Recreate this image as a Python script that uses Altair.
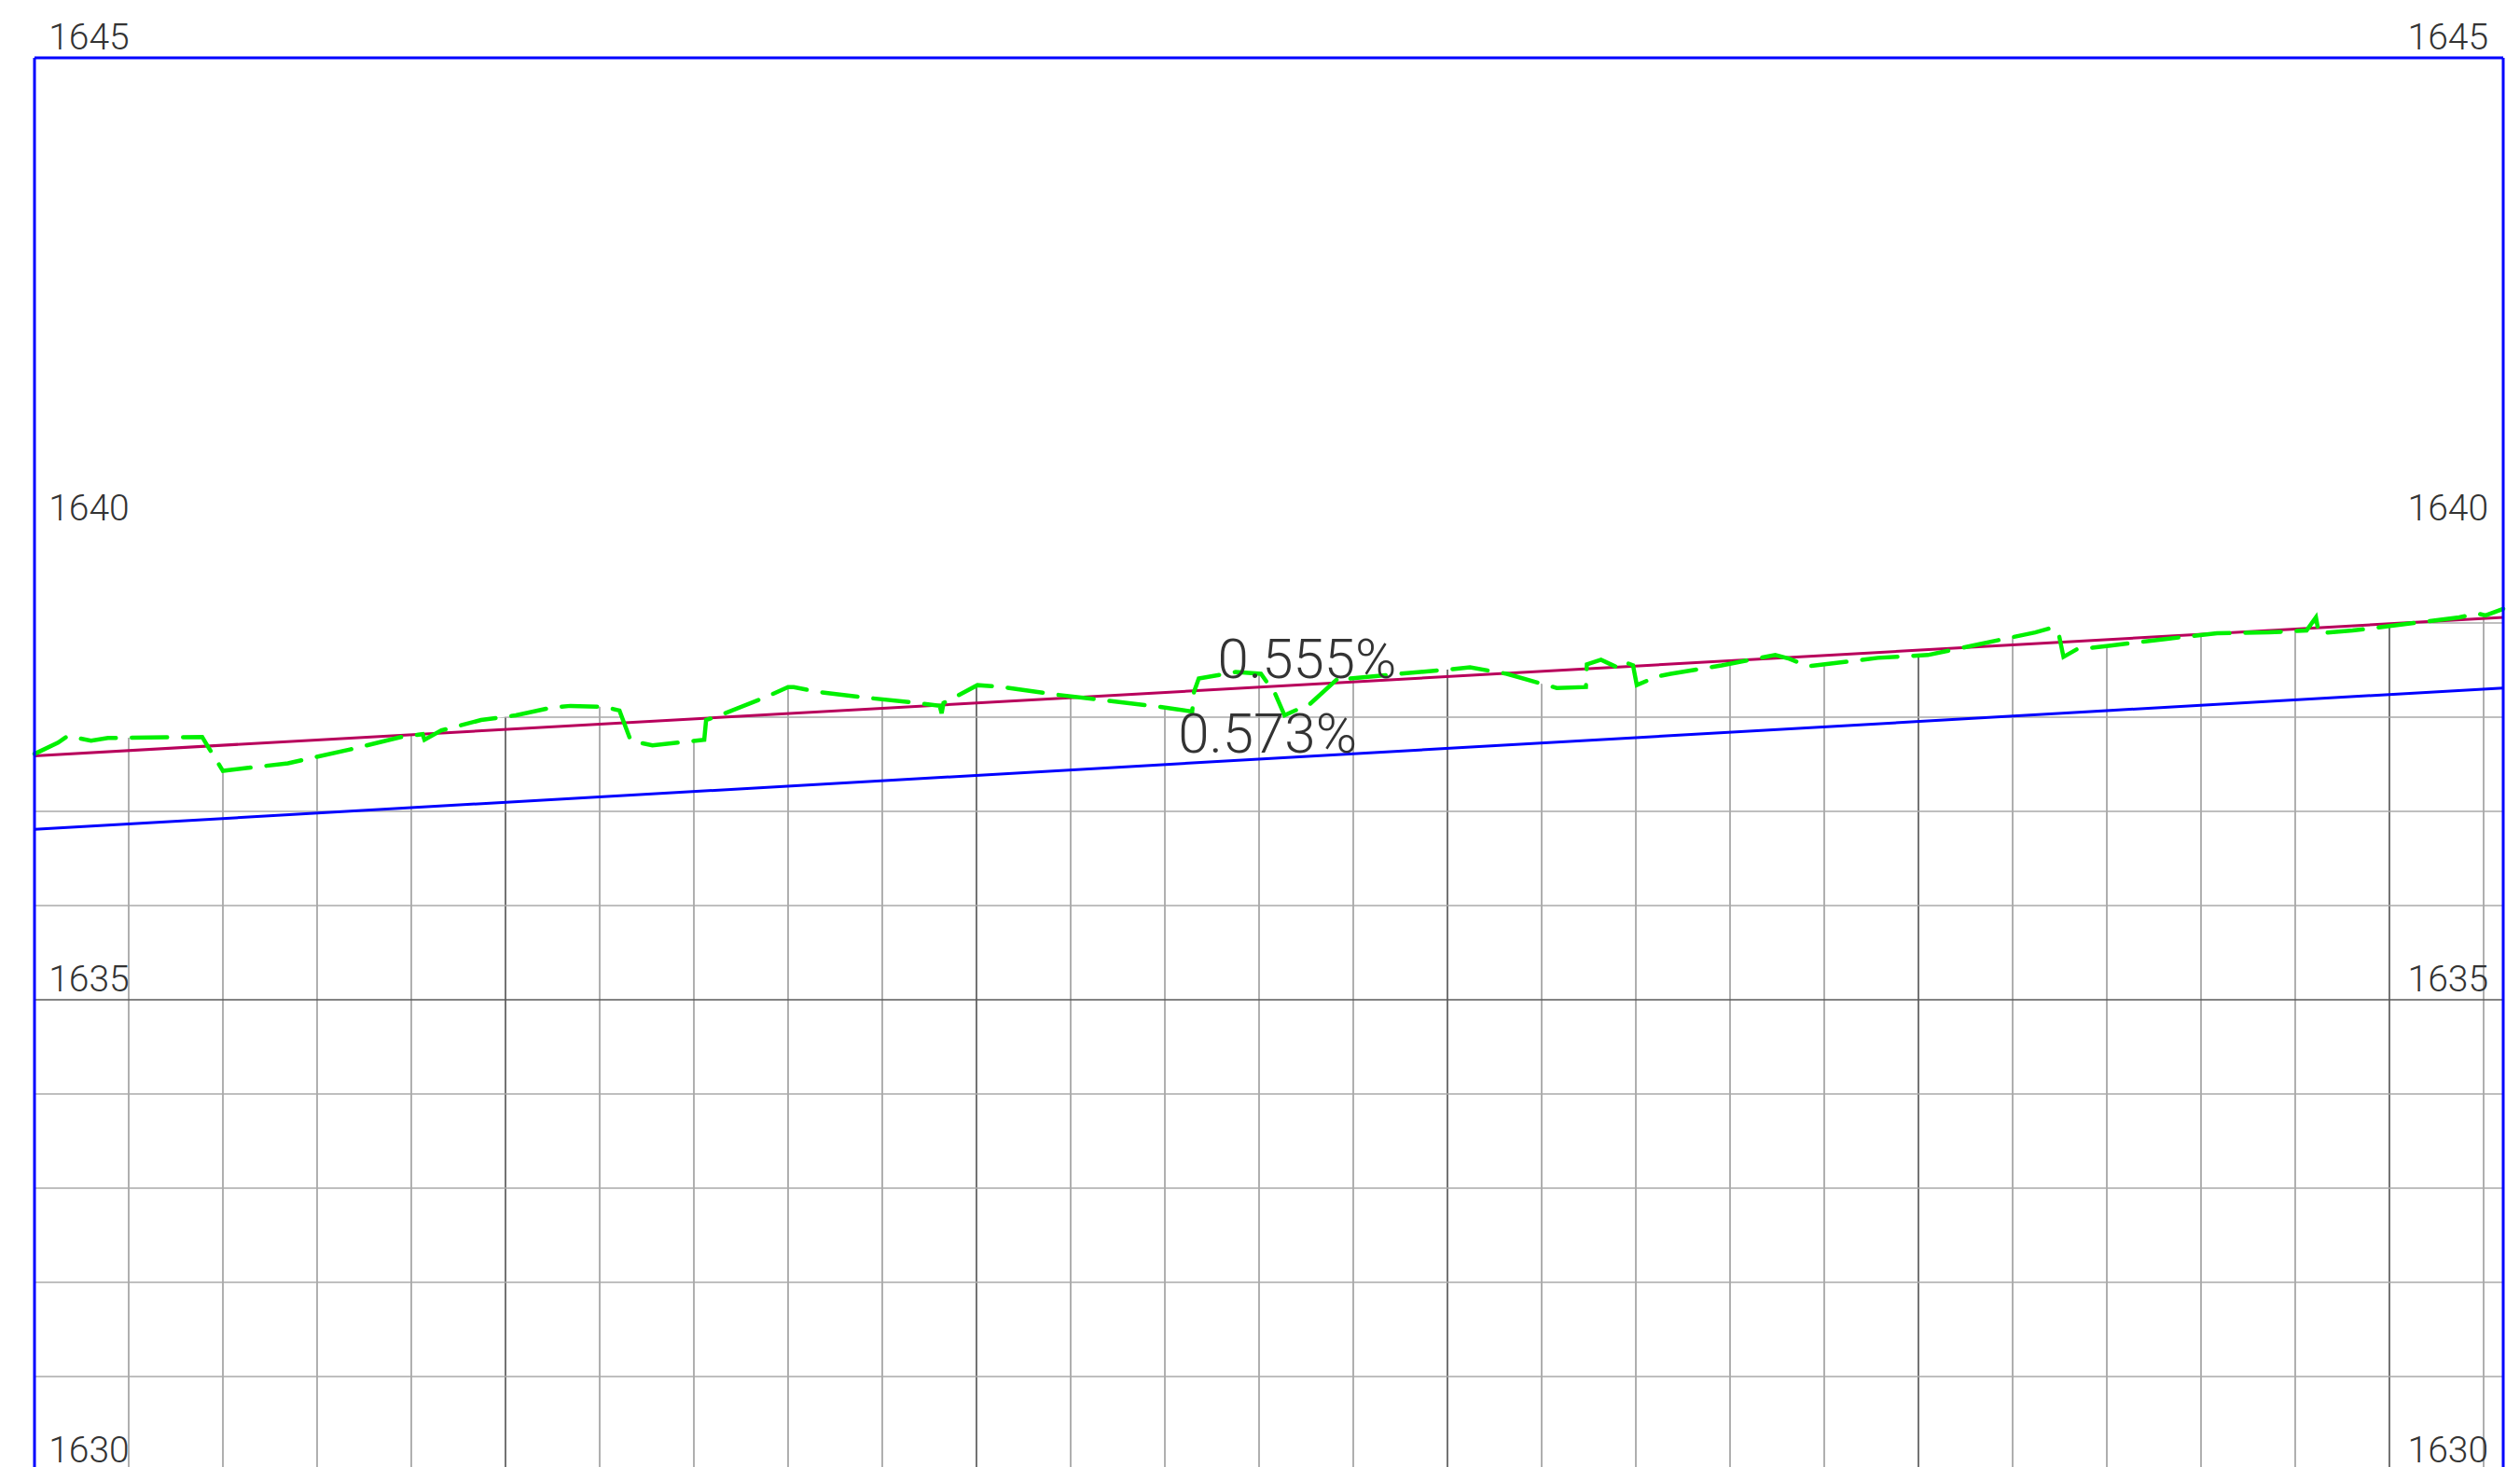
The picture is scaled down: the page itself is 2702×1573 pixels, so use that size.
import altair as alt
import pandas as pd

# ---------------- data ----------------
ground_station = [0, 2.5, 3.5, 6.0, 7.8, 17.8, 18.4, 20.0, 22.5, 26.9, 33.6, 38.9, 41.2, 41.4, 43.2,
                  47.4, 51.1, 54.8, 56.9, 60.5, 62.1, 63.3, 65.6, 71.1, 71.3, 72.5, 77.8, 80.0, 80.6,
                  83.1, 88.0, 93.8, 96.1, 96.3, 96.5, 100.1, 102.8, 108.4, 119.5, 122.9, 123.1, 123.6,
                  127.5, 130.2, 131.7, 132.7, 135.4, 138.7, 139.7, 144.9, 150.5, 152.4, 156.3, 161.6,
                  164.7, 164.8, 166.3, 168.0, 168.7, 169.7, 170.1, 172.2, 173.7, 179.1, 184.8, 186.3,
                  188.3, 195.7, 201.0, 206.7, 212.4, 214.2, 214.9, 215.4, 216.8, 220.4, 226.2, 231.7,
                  237.2, 241.2, 242.2, 242.5, 246.1, 251.8, 257.4, 259.4, 260.2, 262.08]
ground_elev = [1637.61, 1637.73, 1637.80, 1637.75, 1637.78, 1637.79, 1637.69, 1637.43, 1637.46,
               1637.51, 1637.66, 1637.79, 1637.82, 1637.76, 1637.86, 1637.97, 1638.02, 1638.10,
               1638.12, 1638.11, 1638.07, 1637.75, 1637.70, 1637.76, 1637.97, 1638.01, 1638.22,
               1638.32, 1638.32, 1638.27, 1638.21, 1638.15, 1638.12, 1638.04, 1638.15, 1638.34,
               1638.32, 1638.24, 1638.11, 1638.06, 1638.27, 1638.41, 1638.48, 1638.46, 1638.25,
               1638.02, 1638.14, 1638.44, 1638.41, 1638.46, 1638.51, 1638.53, 1638.46, 1638.31,
               1638.32, 1638.56, 1638.61, 1638.53, 1638.59, 1638.55, 1638.34, 1638.43, 1638.46,
               1638.55, 1638.66, 1638.62, 1638.54, 1638.63, 1638.66, 1638.78, 1638.90, 1638.95,
               1638.88, 1638.64, 1638.72, 1638.76, 1638.83, 1638.89, 1638.90, 1638.92, 1639.06,
               1638.89, 1638.92, 1638.99, 1639.06, 1639.10, 1639.08, 1639.15]

line_station = [0, 262.08]
upper_grade_elev = [1637.59, 1639.06]   # 0.555 %
lower_grade_elev = [1636.81, 1638.31]   # 0.573 %

grid_stations = list(range(10, 261, 10))
grid_elevs = list(range(1631, 1645))
label_elevs = [1645, 1640, 1635, 1630]

slope_labels = ["0.555%", "0.573%"]
slope_label_station = [135.1, 130.9]
slope_label_elev = [1638.42, 1637.62]

X0, X1 = 0, 262.08
Y0, Y1 = 1630, 1645

# ---------------- frames ----------------
ground = pd.DataFrame({"station": ground_station, "elev": ground_elev, "top": [Y1] * len(ground_station)})
upper = pd.DataFrame({"station": line_station, "elev": upper_grade_elev})
lower = pd.DataFrame({"station": line_station, "elev": lower_grade_elev})
vgrid = pd.DataFrame({"station": grid_stations, "e0": Y0, "e1": Y1,
                      "major": [s % 50 == 0 for s in grid_stations]})
hgrid = pd.DataFrame({"elev": grid_elevs, "s0": X0, "s1": X1,
                      "major": [e % 5 == 0 for e in grid_elevs]})
lab_left = pd.DataFrame({"station": 1.5, "elev": label_elevs, "txt": [str(e) for e in label_elevs]})
lab_right = pd.DataFrame({"station": 260.5, "elev": label_elevs, "txt": [str(e) for e in label_elevs]})
slopes = pd.DataFrame({"station": slope_label_station, "elev": slope_label_elev, "txt": slope_labels})
border_v = pd.DataFrame({"station": [X0, X1], "e0": Y0, "e1": Y1})
border_h = pd.DataFrame({"elev": [Y1], "s0": X0, "s1": X1})

xs = alt.Scale(domain=[X0, X1], nice=False, zero=False)
ys = alt.Scale(domain=[Y0, Y1], nice=False, zero=False)

def X(f):
    return alt.X(f"{f}:Q", scale=xs, axis=None)

def Y(f):
    return alt.Y(f"{f}:Q", scale=ys, axis=None)

vminor = alt.Chart(vgrid).transform_filter("!datum.major").mark_rule(
    color="#6e6e6e", strokeWidth=1.1).encode(x=X("station"), y=Y("e0"), y2="e1")
vmajor = alt.Chart(vgrid).transform_filter("datum.major").mark_rule(
    color="#000000", strokeWidth=1.1).encode(x=X("station"), y=Y("e0"), y2="e1")
hminor = alt.Chart(hgrid).transform_filter("!datum.major").mark_rule(
    color="#aaaaaa", strokeWidth=1.5).encode(y=Y("elev"), x=X("s0"), x2="s1")
hmajor = alt.Chart(hgrid).transform_filter("datum.major").mark_rule(
    color="#5a5a5a", strokeWidth=1.5).encode(y=Y("elev"), x=X("s0"), x2="s1")

mask = alt.Chart(ground).mark_area(color="white", opacity=1).encode(
    x=X("station"), y=Y("elev"), y2="top")

upper_line = alt.Chart(upper).mark_line(color="#b8005c", strokeWidth=3).encode(
    x=X("station"), y=Y("elev"))
lower_line = alt.Chart(lower).mark_line(color="#0000ff", strokeWidth=3).encode(
    x=X("station"), y=Y("elev"))
ground_line = alt.Chart(ground).mark_line(
    color="#00f000", strokeWidth=4.5, strokeDash=[38, 17], strokeCap="round").encode(
    x=X("station"), y=Y("elev"))

border1 = alt.Chart(border_v).mark_rule(color="#0000ff", strokeWidth=3).encode(
    x=X("station"), y=Y("e0"), y2="e1")
border2 = alt.Chart(border_h).mark_rule(color="#0000ff", strokeWidth=3).encode(
    y=Y("elev"), x=X("s0"), x2="s1")

txt_kw = dict(font="Roboto", fontWeight=300, color="#333333", baseline="alphabetic")
tl = alt.Chart(lab_left).mark_text(align="left", fontSize=39, dy=-9, **txt_kw).encode(
    x=X("station"), y=Y("elev"), text="txt:N")
tr = alt.Chart(lab_right).mark_text(align="right", fontSize=39, dy=-9, **txt_kw).encode(
    x=X("station"), y=Y("elev"), text="txt:N")
ts = alt.Chart(slopes).mark_text(align="center", fontSize=60, **txt_kw).encode(
    x=X("station"), y=Y("elev"), text="txt:N")

chart = alt.layer(
    vminor, vmajor, hminor, hmajor, mask, upper_line, lower_line, ground_line,
    border1, border2, tl, tr, ts
).properties(
    width=2647, height=1515,
    padding={"left": 29, "top": 54, "right": 10, "bottom": 10},
    autosize=alt.AutoSizeParams(type="none"),
    background="white",
).configure_view(stroke=None)

chart.save("out.html", embed_options={"renderer": "svg", "actions": False})
